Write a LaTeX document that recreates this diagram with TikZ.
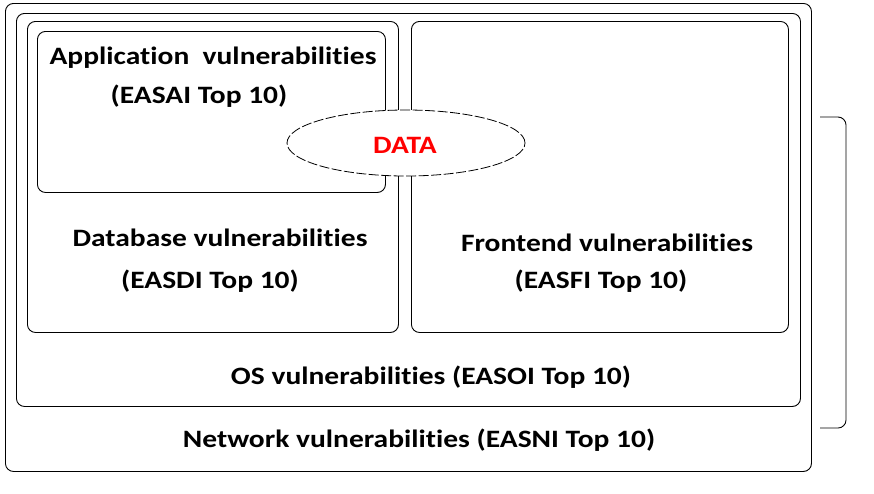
\documentclass[tikz,border=0pt]{standalone}
\usepackage{fontspec}
\usepackage{graphicx}
\setmainfont{Carlito}[Ligatures=NoCommon]
\usetikzlibrary{shapes.geometric}
\newcommand{\widetxt}[1]{\scalebox{1.18}[1]{#1}}
\begin{document}
\begin{tikzpicture}[x=1pt,y=-1pt,
  box/.style={draw, rounded corners=8pt, line width=0.9pt, inner sep=0pt, anchor=north west},
  lbl/.style={font=\fontsize{25}{30}\selectfont\bfseries, inner sep=0pt, anchor=center},
  dataell/.style={ellipse, draw, fill=white, dash pattern=on 10pt off 2.5pt, line width=0.8pt, inner sep=0pt, minimum width=238pt, minimum height=66pt}]
\useasboundingbox (0,0) rectangle (874,493);
\node[box, minimum width=806pt, minimum height=468pt] (net) at (5,3) {};
\node[box, minimum width=784pt, minimum height=393pt] (os) at (16,13) {};
\node[box, minimum width=371pt, minimum height=311pt] (db) at (27,21) {};
\node[box, minimum width=377pt, minimum height=311pt] (fe) at (411,21) {};
\node[box, minimum width=348pt, minimum height=161pt] (app) at (37,31) {};
\node[dataell] (data) at (406,143) {};
\node[lbl, text=red] (datalbl) at (405,145) {\widetxt{DATA}};
\node[lbl] (app1) at (213,58) {\widetxt{Application\ \ vulnerabilities}};
\node[lbl] (app2) at (199,96) {\widetxt{(EASAI Top 10)}};
\node[lbl] (db1) at (220,238) {\widetxt{Database vulnerabilities}};
\node[lbl] (db2) at (210,281) {\widetxt{(EASDI Top 10)}};
\node[lbl] (fe1) at (607,243) {\widetxt{Frontend vulnerabilities}};
\node[lbl] (fe2) at (601,281) {\widetxt{(EASFI Top 10)}};
\node[lbl] (os1) at (431,377) {\widetxt{OS vulnerabilities (EASOI Top 10)}};
\node[lbl] (net1) at (419,440) {\widetxt{Network vulnerabilities (EASNI Top 10)}};
\coordinate (bt) at (820,117);
\coordinate (bb) at (820,428);
\draw[line width=0.9pt, rounded corners=8pt] (bt) -- (846,117) -- (846,428) -- (bb);
\end{tikzpicture}
\end{document}
